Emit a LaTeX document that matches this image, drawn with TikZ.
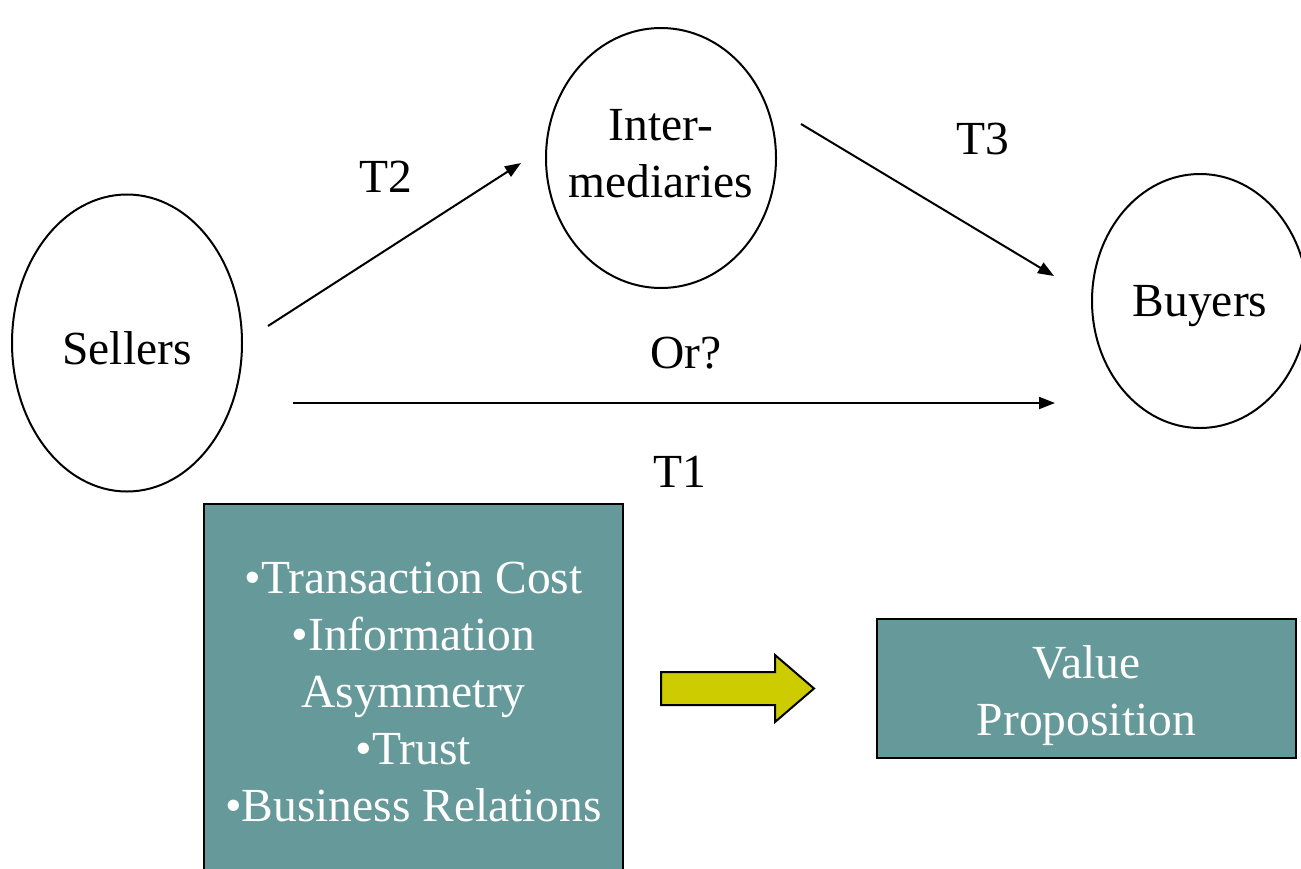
\documentclass[tikz,border=0pt]{standalone}
\usepackage{fontspec}
\setmainfont{Liberation Serif}
\usetikzlibrary{arrows.meta,shapes.geometric}
\definecolor{tealbox}{HTML}{669999}
\definecolor{olivearrow}{HTML}{CCCC00}
\begin{document}
\begin{tikzpicture}[x=1pt,y=-1pt,
  every node/.style={font=\fontsize{47.5}{57}\selectfont},
  party/.style={ellipse,draw,line width=2pt,inner sep=0pt},
  inside/.style={align=center,inner sep=0pt},
  conn/.style={line width=2pt,-{Triangle[length=16pt,width=12pt]}},
  lbl/.style={anchor=base,inner sep=0pt},
  infobox/.style={draw,line width=2pt,fill=tealbox,text=white,align=center,inner sep=0pt}]
\useasboundingbox (0,0) rectangle (1301,868);
% market parties
\node[party,minimum width=230pt,minimum height=297pt,
  label={[inside,yshift=-5pt]center:Sellers}] (sellers) at (127,343) {};
\node[party,minimum width=230pt,minimum height=260pt,
  label={[inside,yshift=4pt]center:Inter-\\mediaries}] (inter) at (661,158) {};
\node[party,minimum width=216pt,minimum height=254pt,
  label={[inside,yshift=-5pt]center:Buyers}] (buyers) at (1200,301) {};
% transaction arrows
\coordinate (t2s) at (268,326);
\coordinate (t2e) at (521,163);
\coordinate (t3s) at (801,124);
\coordinate (t3e) at (1054,276);
\coordinate (t1s) at (293,403);
\coordinate (t1e) at (1055,403);
\draw[conn] (t2s) -- (t2e);
\draw[conn] (t3s) -- (t3e);
\draw[conn] (t1s) -- (t1e);
\node[lbl] (lt2) at (386,192) {T2};
\node[lbl] (lt3) at (983,154) {T3};
\node[lbl] (lor) at (686,368) {Or?};
\node[lbl] (lt1) at (680,487) {T1};
% factor box and result
\node[infobox,minimum width=419pt,minimum height=376pt] (factors) at (413.5,692)
  {\textbullet Transaction Cost\\\textbullet Information\\Asymmetry\\\textbullet Trust\\\textbullet Business Relations};
\node[infobox,minimum width=419pt,minimum height=139pt,
  label={[inside,text=white,yshift=-7pt]center:Value\\Proposition}] (value) at (1086.5,688.5) {};
\draw[line width=2pt,fill=olivearrow,line join=miter]
  (661,672) -- (775,672) -- (775,655) -- (814,688.5) -- (775,722) -- (775,705) -- (661,705) -- cycle;
\end{tikzpicture}
\end{document}
